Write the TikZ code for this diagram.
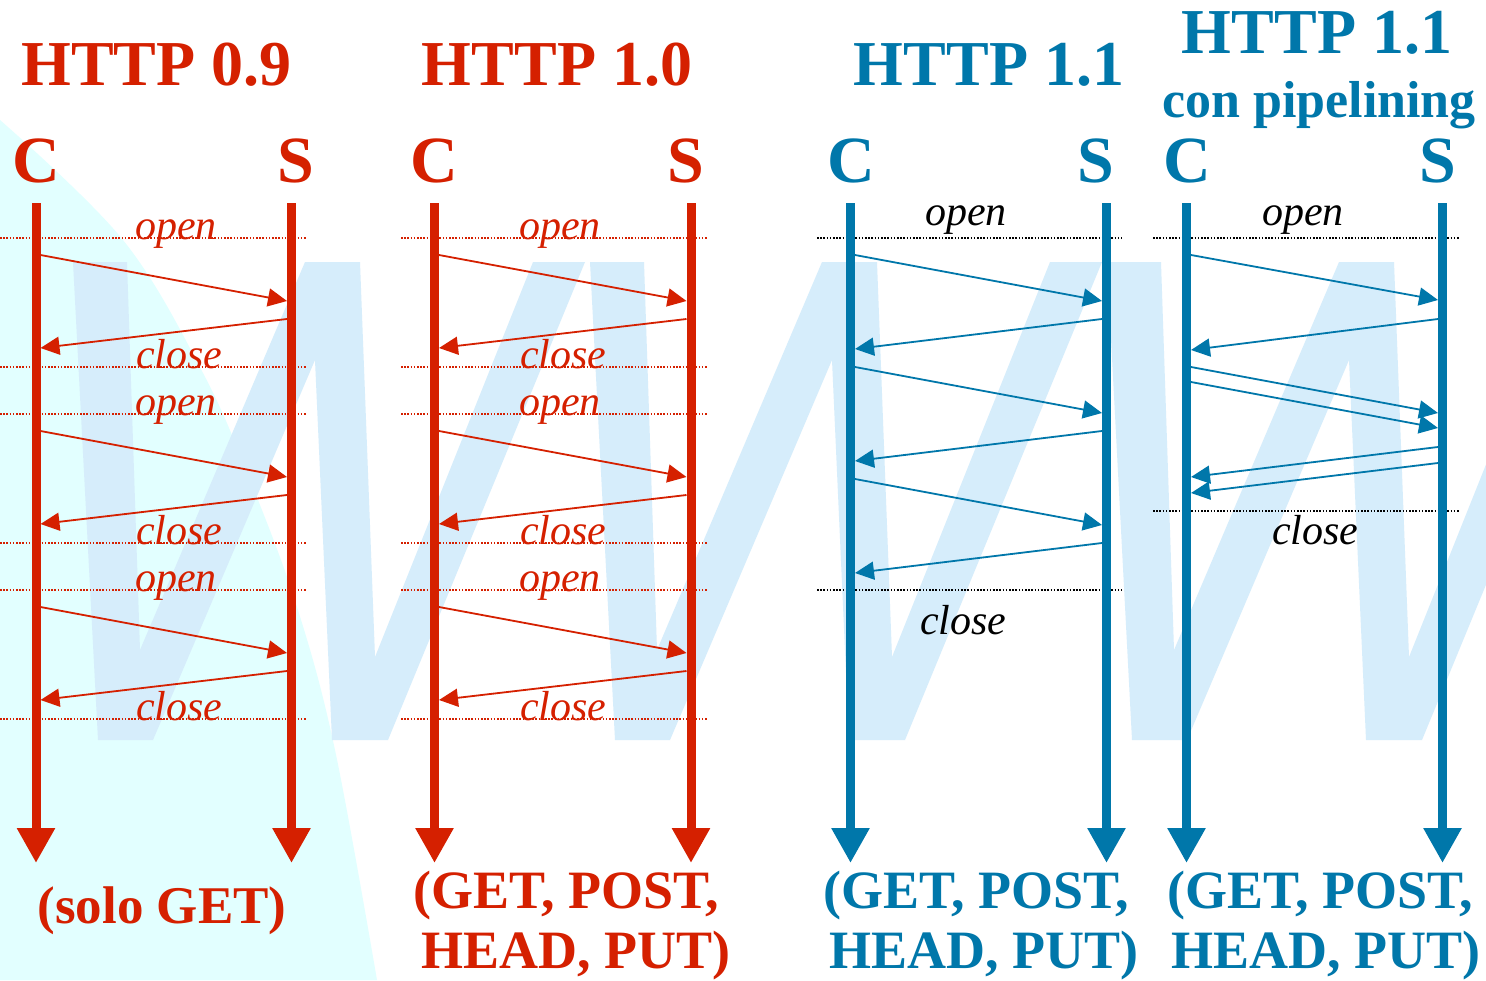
\documentclass[tikz,border=0pt]{standalone}
\usepackage{fontspec}
\setmainfont{Liberation Serif}
\usetikzlibrary{arrows.meta}

\definecolor{httpred}{RGB}{213,32,0}
\definecolor{httpblue}{RGB}{0,119,170}
\definecolor{wmark}{RGB}{214,237,251}
\definecolor{bgcyan}{RGB}{226,255,255}

\begin{document}
\begin{tikzpicture}[
  x=1pt, y=-1pt,
  lifeline/.style={line width=9pt, -{Triangle[length=35pt,width=36pt]}},
  msg/.style={line width=1.8pt, -{Triangle[length=19pt,width=18pt]}},
  dotline/.style={line width=1.3pt, dash pattern=on 1.6pt off 1.6pt},
  title/.style={inner sep=0pt, anchor=base, font=\fontsize{64}{64}\selectfont\bfseries},
  subtitle/.style={inner sep=0pt, anchor=base, font=\fontsize{52}{52}\selectfont\bfseries},
  actor/.style={inner sep=0pt, anchor=base, font=\fontsize{66}{66}\selectfont\bfseries},
  methods/.style={inner sep=0pt, anchor=base, font=\fontsize{54}{54}\selectfont\bfseries},
  phase/.style={inner sep=0pt, anchor=base west, font=\fontsize{42}{42}\selectfont\itshape}
]
\useasboundingbox (0,0) rectangle (1486,980);
\fill[white] (0,0) rectangle (1486,980);

% background: light cyan sweep at the lower left
\fill[bgcyan] plot[smooth, tension=0.6] coordinates
  {(0,120) (123,240) (203,373) (250,480) (297,607) (335,750) (377,980)}
  -- (0,980) -- cycle;

% background: "WWW" watermark
\begin{scope}
  \clip (0,0) rectangle (1486,980);
  \foreach \dx in {0,517,1034}
    \fill[wmark, shift={(\dx,0)}]
      (73,262) -- (127,262) -- (140,650) -- (305,262) -- (360,262)
      -- (375,657) -- (533,262) -- (585,262) -- (388,740) -- (332,740)
      -- (315,360) -- (153,740) -- (98,740) -- cycle;
\end{scope}

% dotted phase separators
\foreach \y in {238,367,414,543,590,719} {
  \draw[dotline, httpred] (0,\y) -- (307,\y);
  \draw[dotline, httpred] (401,\y) -- (707,\y);
}
\draw[dotline, black] (817,238) -- (1122,238);
\draw[dotline, black] (817,590) -- (1122,590);
\draw[dotline, black] (1153,238) -- (1459,238);
\draw[dotline, black] (1153,511) -- (1459,511);

% phase labels
\foreach \o in {0,176,352} {
  \node[phase, text=httpred] at (135,239+\o) {open};
  \node[phase, text=httpred] at (136,368+\o) {close};
  \node[phase, text=httpred] at (519,239+\o) {open};
  \node[phase, text=httpred] at (520,368+\o) {close};
}
\node[phase] (op3) at (925,225) {open};
\node[phase] (cl3) at (920,634) {close};
\node[phase] (op4) at (1262,225) {open};
\node[phase] (cl4) at (1272,544) {close};

% titles
\node[title, text=httpred]  (t09) at (156.5,85) {HTTP 0.9};
\node[title, text=httpred]  (t10) at (557,85)   {HTTP 1.0};
\node[title, text=httpblue] (t11) at (989,85)   {HTTP 1.1};
\node[title, text=httpblue] (t11p) at (1317,53) {HTTP 1.1};
\node[subtitle, text=httpblue] (pip) at (1319,117) {con pipelining};

% client / server labels
\foreach \n/\x/\col in {c1/36/httpred, c2/434/httpred, c3/851/httpblue, c4/1187/httpblue}
  \node[actor, text=\col] (\n-lab) at (\x,182) {C};
\foreach \n/\x/\col in {s1/296/httpred, s2/686/httpred, s3/1096/httpblue, s4/1438/httpblue}
  \node[actor, text=\col] (\n-lab) at (\x,182) {S};

% lifelines
\foreach \n/\x/\col in {c1/36/httpred, s1/291.5/httpred, c2/434.5/httpred, s2/691/httpred, c3/850.5/httpblue, s3/1106.5/httpblue, c4/1186.5/httpblue, s4/1442.5/httpblue} {
  \coordinate (\n-top) at (\x,203);
  \coordinate (\n-bot) at (\x,863);
  \draw[lifeline, \col] (\n-top) -- (\n-bot);
}

% HTTP 0.9 and 1.0: one connection per request
\foreach \s/\cx/\sx in {1/40.5/287, 2/439/686.5} {
  \foreach \k [evaluate=\k as \o using 176*\k] in {0,1,2} {
    \coordinate (q\s-\k-a) at (\cx,255+\o);
    \coordinate (q\s-\k-b) at (\sx,301+\o);
    \coordinate (r\s-\k-a) at (\sx,319+\o);
    \coordinate (r\s-\k-b) at (\cx,348+\o);
    \draw[msg, httpred] (q\s-\k-a) -- (q\s-\k-b);
    \draw[msg, httpred] (r\s-\k-a) -- (r\s-\k-b);
  }
}

% HTTP 1.1: persistent connection
\foreach \k [evaluate=\k as \o using 112*\k] in {0,1,2} {
  \coordinate (q3-\k-a) at (855,255+\o);
  \coordinate (q3-\k-b) at (1102,301+\o);
  \coordinate (r3-\k-a) at (1102,319+\o);
  \coordinate (r3-\k-b) at (855,349+\o);
  \draw[msg, httpblue] (q3-\k-a) -- (q3-\k-b);
  \draw[msg, httpblue] (r3-\k-a) -- (r3-\k-b);
}

% HTTP 1.1 with pipelining
\coordinate (q4-0-a) at (1191,255); \coordinate (q4-0-b) at (1438,300);
\coordinate (r4-0-a) at (1438,319); \coordinate (r4-0-b) at (1191,350);
\coordinate (q4-1-a) at (1191,367); \coordinate (q4-1-b) at (1438,413);
\coordinate (q4-2-a) at (1191,382); \coordinate (q4-2-b) at (1438,428);
\coordinate (r4-1-a) at (1438,447); \coordinate (r4-1-b) at (1191,477);
\coordinate (r4-2-a) at (1438,463); \coordinate (r4-2-b) at (1191,493);
\foreach \m in {q4-0, r4-0, q4-1, q4-2, r4-1, r4-2}
  \draw[msg, httpblue] (\m-a) -- (\m-b);

% supported methods
\node[methods, text=httpred, font=\fontsize{53}{53}\selectfont\bfseries] (m09) at (162,923) {(solo GET)};
\node[methods, text=httpred] (m10a) at (566,908) {(GET, POST,};
\node[methods, text=httpred] (m10b) at (576,968) {HEAD, PUT)};
\node[methods, text=httpblue] (m11a) at (976,908) {(GET, POST,};
\node[methods, text=httpblue] (m11b) at (984,968) {HEAD, PUT)};
\node[methods, text=httpblue] (m12a) at (1320,908) {(GET, POST,};
\node[methods, text=httpblue] (m12b) at (1326,968) {HEAD, PUT)};
\end{tikzpicture}
\end{document}
